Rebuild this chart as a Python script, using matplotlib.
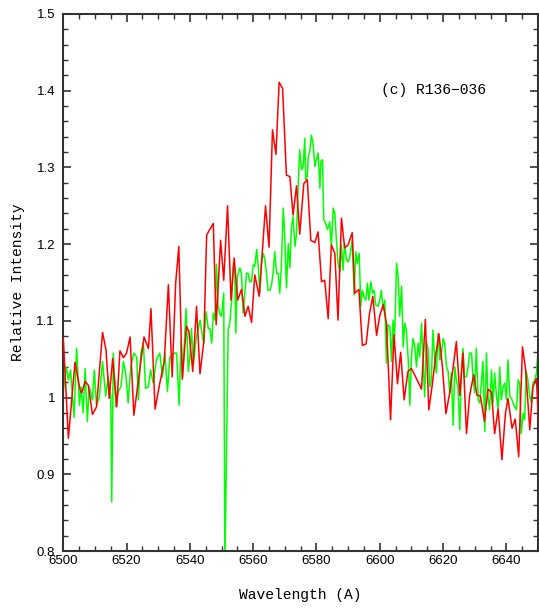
import matplotlib
matplotlib.use("Agg")
import matplotlib.pyplot as plt
from matplotlib.ticker import MultipleLocator

# ---- data ----
red_wave = [6500.0, 6501.6, 6503.7, 6505.3, 6505.8, 6506.9, 6507.9, 6509.2, 6510.5, 6512.4,
            6513.5, 6514.5, 6515.6, 6516.9, 6517.9, 6519.0, 6520.0, 6521.1, 6522.3, 6524.2,
            6525.5, 6526.9, 6527.7, 6529.0, 6530.5, 6531.9, 6533.2, 6534.4, 6535.5, 6536.5,
            6537.6, 6538.9, 6539.7, 6540.9, 6542.1, 6543.2, 6544.4, 6545.3, 6547.4, 6548.3,
            6549.7, 6550.7, 6551.9, 6553.0, 6554.0, 6555.1, 6556.3, 6557.4, 6558.4, 6559.5,
            6560.5, 6561.9, 6563.9, 6565.0, 6566.1, 6567.2, 6568.2, 6569.3, 6570.5, 6571.6,
            6572.6, 6573.7, 6574.7, 6576.0, 6577.1, 6578.2, 6579.5, 6580.5, 6581.6, 6582.6,
            6583.7, 6584.7, 6585.8, 6586.8, 6587.9, 6588.9, 6590.0, 6591.3, 6592.1, 6593.4,
            6594.5, 6595.7, 6596.7, 6597.8, 6599.0, 6600.0, 6601.1, 6602.1, 6603.4, 6604.5,
            6605.6, 6606.6, 6607.7, 6608.9, 6610.0, 6611.1, 6613.2, 6614.4, 6615.5, 6616.6,
            6617.7, 6618.7, 6619.8, 6620.9, 6622.1, 6623.2, 6624.2, 6625.3, 6626.3, 6627.4,
            6628.4, 6629.7, 6630.7, 6631.8, 6633.1, 6634.2, 6635.3, 6636.3, 6637.4, 6638.6,
            6639.7, 6640.5, 6641.8, 6642.8, 6643.9, 6645.1, 6646.1, 6647.4, 6648.4, 6649.5,
            6650.5]
red_flux = [1.077, 0.947, 1.046, 1.010, 1.006, 1.021, 1.016, 0.978, 0.988, 1.085,
            1.062, 0.999, 1.051, 0.988, 1.061, 1.052, 1.058, 1.079, 0.977, 1.038,
            1.079, 1.064, 1.116, 0.985, 1.019, 1.047, 1.147, 1.027, 1.149, 1.197,
            1.024, 1.093, 1.086, 1.034, 1.119, 1.031, 1.073, 1.212, 1.227, 1.095,
            1.205, 1.153, 1.250, 1.127, 1.182, 1.127, 1.141, 1.106, 1.119, 1.098,
            1.160, 1.132, 1.250, 1.196, 1.349, 1.317, 1.411, 1.403, 1.290, 1.288,
            1.238, 1.276, 1.213, 1.279, 1.284, 1.205, 1.202, 1.216, 1.151, 1.153,
            1.103, 1.199, 1.188, 1.101, 1.234, 1.195, 1.199, 1.215, 1.136, 1.141,
            1.068, 1.070, 1.108, 1.132, 1.081, 1.107, 1.121, 1.097, 0.971, 1.082,
            1.018, 1.059, 0.997, 1.034, 1.038, 1.029, 1.011, 1.102, 0.984, 1.017,
            1.056, 1.083, 1.040, 0.979, 1.006, 1.040, 1.073, 1.003, 1.058, 0.953,
            1.003, 1.030, 1.003, 1.002, 0.969, 1.011, 1.007, 0.953, 0.985, 0.919,
            0.979, 0.999, 0.960, 0.972, 0.923, 1.066, 1.036, 0.958, 1.014, 1.025,
            0.940]

green_wave = [6500.0, 6500.9, 6501.6, 6502.3, 6503.4, 6504.2, 6505.1, 6505.6, 6506.3, 6506.9,
              6507.6, 6508.2, 6509.2, 6509.8, 6510.5, 6511.4, 6512.4, 6513.4, 6514.2, 6515.0,
              6515.3, 6515.8, 6516.6, 6517.4, 6518.2, 6519.0, 6519.7, 6520.5, 6521.3, 6522.3,
              6523.2, 6523.7, 6524.5, 6525.3, 6526.0, 6526.9, 6527.6, 6528.4, 6529.5, 6530.5,
              6531.3, 6532.1, 6532.9, 6533.7, 6535.1, 6535.8, 6536.6, 6537.2, 6537.7, 6538.8,
              6539.5, 6540.0, 6540.5, 6541.1, 6541.9, 6543.2, 6544.0, 6544.4, 6545.1, 6545.8,
              6546.3, 6546.9, 6547.4, 6547.9, 6548.4, 6548.9, 6549.5, 6550.0, 6550.7, 6551.06,
              6552.1, 6552.6, 6553.2, 6553.7, 6554.2, 6554.5, 6555.0, 6555.8, 6556.3, 6556.8,
              6557.9, 6558.4, 6558.9, 6559.5, 6560.0, 6560.5, 6561.1, 6561.6, 6562.1, 6562.6,
              6563.2, 6563.7, 6564.2, 6564.7, 6565.3, 6565.8, 6566.3, 6566.8, 6567.4, 6567.9,
              6568.4, 6568.9, 6569.5, 6570.0, 6570.5, 6571.1, 6571.6, 6572.1, 6572.6, 6573.2,
              6573.7, 6574.2, 6574.7, 6575.3, 6575.8, 6576.3, 6576.6, 6577.1, 6577.4, 6577.9,
              6578.4, 6578.9, 6579.5, 6580.0, 6580.5, 6581.1, 6581.4, 6581.9, 6582.3, 6582.9,
              6583.5, 6584.2, 6584.7, 6585.3, 6585.8, 6586.3, 6586.8, 6587.4, 6587.9, 6588.4,
              6588.9, 6589.5, 6590.0, 6590.5, 6591.3, 6591.9, 6592.4, 6592.9, 6593.5, 6594.0,
              6594.5, 6595.1, 6595.6, 6596.1, 6596.6, 6597.2, 6597.7, 6598.2, 6598.7, 6599.5,
              6600.0, 6600.5, 6601.1, 6601.6, 6602.1, 6602.6, 6603.2, 6603.7, 6604.2, 6604.7,
              6605.3, 6605.8, 6606.3, 6606.9, 6607.4, 6607.9, 6608.4, 6609.0, 6609.5, 6610.0,
              6610.5, 6611.1, 6611.6, 6612.1, 6612.6, 6613.2, 6613.7, 6614.2, 6614.7, 6615.3,
              6615.8, 6616.3, 6616.8, 6617.4, 6617.9, 6618.4, 6619.0, 6619.5, 6620.0, 6620.5,
              6621.1, 6621.6, 6622.1, 6622.6, 6623.2, 6623.7, 6624.2, 6624.7, 6625.3, 6625.8,
              6626.3, 6626.8, 6627.4, 6627.9, 6628.4, 6629.0, 6629.5, 6630.0, 6630.5, 6631.1,
              6631.6, 6632.1, 6632.6, 6633.2, 6633.7, 6634.2, 6634.7, 6635.3, 6635.8, 6636.3,
              6636.8, 6637.4, 6637.9, 6638.4, 6639.0, 6639.5, 6640.0, 6640.5, 6641.1, 6641.6,
              6642.1, 6642.6, 6643.2, 6643.7, 6644.2, 6644.7, 6645.3, 6645.8, 6646.3, 6646.8,
              6647.4, 6647.9, 6648.4, 6649.0, 6649.5, 6650.0]
green_flux = [1.008, 1.040, 1.023, 1.036, 0.974, 1.064, 0.990, 1.014, 0.980, 1.038,
              0.969, 1.014, 0.997, 1.036, 0.990, 1.001, 1.047, 1.002, 1.027, 1.001,
              0.864, 1.058, 0.988, 1.008, 1.014, 1.047, 1.032, 0.993, 1.040, 1.058,
              1.053, 0.997, 1.058, 1.071, 1.012, 1.014, 1.036, 1.019, 1.051, 1.058,
              1.027, 1.058, 1.008, 1.053, 1.058, 1.058, 0.990, 1.075, 1.027, 1.116,
              1.034, 1.053, 1.090, 1.042, 1.075, 1.101, 1.079, 1.071, 1.112, 1.090,
              1.090, 1.071, 1.110, 1.101, 1.174, 1.119, 1.108, 1.106, 1.136, 0.780,
              1.088, 1.097, 1.127, 1.175, 1.162, 1.084, 1.158, 1.169, 1.162, 1.110,
              1.162, 1.162, 1.151, 1.151, 1.173, 1.171, 1.193, 1.171, 1.136, 1.175,
              1.188, 1.180, 1.162, 1.140, 1.140, 1.147, 1.162, 1.190, 1.162, 1.162,
              1.136, 1.171, 1.247, 1.208, 1.143, 1.201, 1.169, 1.223, 1.236, 1.197,
              1.214, 1.275, 1.323, 1.297, 1.301, 1.338, 1.284, 1.288, 1.314, 1.321,
              1.342, 1.332, 1.301, 1.310, 1.319, 1.273, 1.308, 1.310, 1.232, 1.227,
              1.219, 1.229, 1.197, 1.247, 1.240, 1.206, 1.175, 1.164, 1.199, 1.166,
              1.201, 1.179, 1.177, 1.182, 1.206, 1.134, 1.190, 1.175, 1.188, 1.119,
              1.140, 1.130, 1.127, 1.149, 1.127, 1.151, 1.136, 1.140, 1.121, 1.119,
              1.127, 1.140, 1.114, 1.127, 1.045, 1.095, 1.092, 1.047, 1.101, 1.079,
              1.175, 1.158, 1.106, 1.145, 1.066, 1.097, 1.088, 1.049, 0.990, 1.053,
              1.077, 1.066, 1.040, 1.071, 1.053, 1.097, 1.045, 1.001, 1.073, 1.062,
              1.014, 1.023, 1.088, 1.049, 1.032, 1.084, 1.049, 1.058, 1.077, 1.071,
              1.040, 1.034, 1.006, 1.032, 0.964, 1.040, 1.023, 1.014, 0.958, 1.040,
              1.064, 1.027, 1.027, 1.040, 1.058, 1.058, 1.023, 1.006, 1.064, 0.997,
              0.993, 1.019, 1.047, 0.956, 1.058, 1.001, 0.984, 1.036, 0.993, 1.032,
              1.006, 0.984, 1.040, 0.997, 1.014, 1.019, 0.997, 1.049, 1.001, 0.999,
              0.993, 0.988, 0.984, 1.023, 1.019, 0.953, 0.980, 0.971, 1.034, 1.023,
              1.001, 0.993, 1.019, 1.023, 1.032, 1.060]

x_ticks = [6500, 6520, 6540, 6560, 6580, 6600, 6620, 6640]
y_ticks = [0.8, 0.9, 1.0, 1.1, 1.2, 1.3, 1.4, 1.5]
y_tick_labels = ["0.8", "0.9", "1", "1.1", "1.2", "1.3", "1.4", "1.5"]
label_text = "(c) R136\u2212036"

# ---- figure ----
fig = plt.figure(figsize=(5.39, 6.10), dpi=100)
ax = fig.add_axes([63.3 / 539, 59 / 610, (538 - 63.3) / 539, 537 / 610])

ax.plot(green_wave, green_flux, color="#00ff00", lw=1.1, zorder=2)
ax.plot(red_wave, red_flux, color="#ff0000", lw=1.1, zorder=3)

ax.set_xlim(6500, 6650)
ax.set_ylim(0.8, 1.5)
ax.set_xticks(x_ticks)
ax.set_yticks(y_ticks)
ax.set_yticklabels(y_tick_labels)
ax.xaxis.set_minor_locator(MultipleLocator(5))
ax.yaxis.set_minor_locator(MultipleLocator(0.02))

for lab in ax.get_xticklabels() + ax.get_yticklabels():
    lab.set_fontfamily("Liberation Sans")
    lab.set_fontsize(9.5)

ax.tick_params(which="both", direction="in", top=True, right=True, color="#333333")
ax.tick_params(which="major", length=6, width=1.2, pad=3)
ax.tick_params(which="minor", length=3.5, width=1.0)
ax.tick_params(axis="y", which="major", pad=6)
for sp in ax.spines.values():
    sp.set_linewidth(1.5)
    sp.set_color("#333333")

lab_font = {"family": "Liberation Mono", "size": 10.5}
ax.set_xlabel("Wavelength (A)", fontdict=lab_font, labelpad=15)
ax.set_ylabel("Relative Intensity", fontdict=lab_font, labelpad=8)
ax.text(6617, 1.401, label_text, fontdict=lab_font, ha="center", va="center")

fig.savefig("out.png", dpi=100)
